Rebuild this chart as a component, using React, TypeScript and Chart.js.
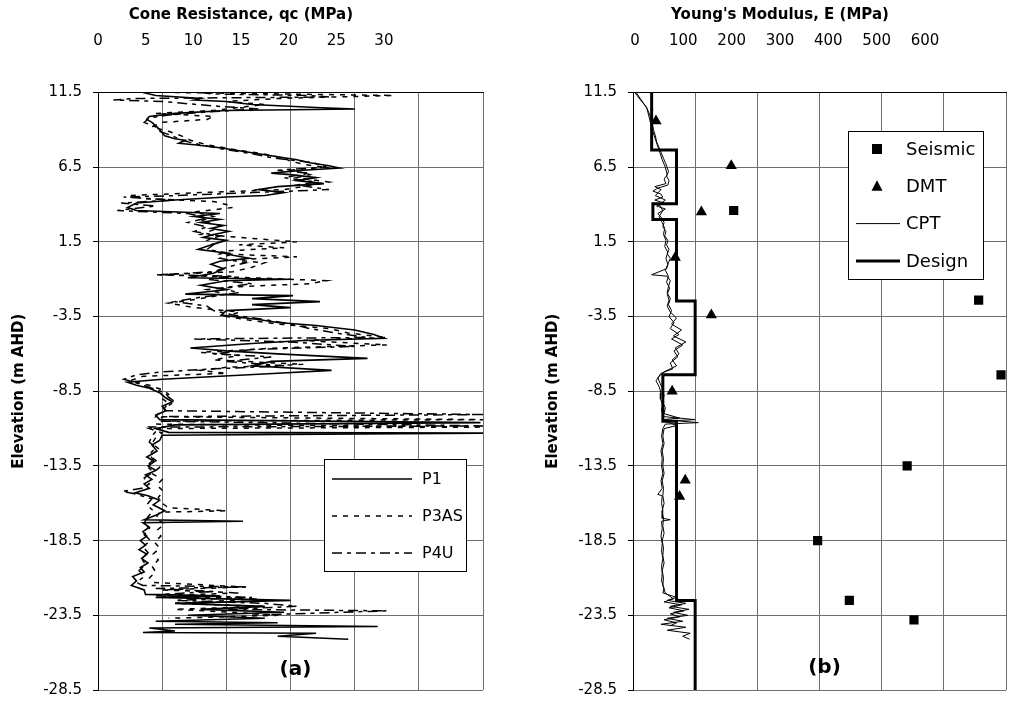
import React, { useEffect, useRef } from 'react';
import { Chart, registerables } from 'chart.js';

Chart.register(...registerables);

const FONT = '"DejaVu Sans", Verdana, sans-serif';
const GRID = '#6e6e6e';

// ---------- tick labels ----------
const elevationTicks = [11.5, 6.5, 1.5, -3.5, -8.5, -13.5, -18.5, -23.5, -28.5];
const qcTickLabels = [0, 5, 10, 15, 20, 25, 30];
const eTickLabels = [0, 100, 200, 300, 400, 500, 600];

// ---------- panel (a): cone resistance profiles ----------
const p1Elev = [11.5, 11.3, 11.1, 11.0, 10.9, 10.7, 10.5, 10.4, 10.3, 10.1, 9.9, 9.7, 9.5, 9.2, 9.0, 8.8, 8.6, 8.4, 8.3, 8.1, 8.0, 7.8, 7.6, 7.4, 7.2, 7.0, 6.8, 6.6, 6.45, 6.3, 6.1, 6.0, 5.8, 5.6, 5.4, 5.2, 5.0, 4.8, 4.6, 4.5, 4.3, 4.1, 3.8, 3.6, 3.4, 3.2, 3.0, 2.8, 2.6, 2.4, 2.2, 2.0, 1.8, 1.6, 1.4, 1.2, 1.0, 0.8, 0.6, 0.4, 0.2, 0.0, -0.3, -0.6, -0.9, -1.0, -1.1, -1.4, -1.7, -2.0, -2.1, -2.3, -2.5, -2.7, -2.9, -3.1, -3.4, -3.7, -3.9, -4.1, -4.4, -4.7, -4.95, -5.1, -5.3, -5.6, -5.8, -6.0, -6.3, -6.5, -6.8, -7.1, -7.3, -7.5, -7.7, -7.9, -8.1, -8.3, -8.6, -8.9, -9.2, -9.5, -9.8, -10.1, -10.4, -10.6, -10.75, -11.0, -11.25, -11.3, -11.45, -11.8, -12.1, -12.5, -12.9, -13.2, -13.5, -13.8, -14.1, -14.4, -14.7, -15.0, -15.3, -15.5, -15.8, -16.1, -16.5, -16.8, -17.1, -17.2, -17.3, -17.6, -17.9, -18.2, -18.5, -18.8, -19.1, -19.4, -19.7, -20.0, -20.3, -20.6, -20.9, -21.2, -21.5, -21.8, -22.1, -22.2, -22.3, -22.5, -22.7, -22.9, -23.1, -23.3, -23.5, -23.7, -23.9, -24.0, -24.1, -24.25, -24.35, -24.55, -24.65, -24.7, -24.9, -25.1];
const p1Qc = [3.5, 4.5, 8, 7.5, 10, 12, 17, 20, 10, 6, 4, 3.8, 4.2, 4.6, 4.8, 5.0, 5.2, 6.0, 6.8, 6.3, 7.5, 9.5, 11.0, 12.5, 14.0, 15.5, 16.5, 18.0, 18.8, 16.0, 13.5, 15.0, 17.0, 15.5, 17.6, 14.0, 12.5, 14.5, 13.0, 10.0, 6.0, 3.0, 2.3, 3.0, 9.5, 7.5, 9.5, 8.0, 9.8, 8.8, 10.2, 9.0, 8.2, 10.0, 9.2, 8.5, 7.8, 9.5, 10.5, 11.8, 9.5, 8.8, 9.8, 9.0, 7.0, 15.0, 10.0, 8.0, 10.0, 6.8, 15.2, 12.0, 17.3, 12.0, 15.0, 10.0, 9.6, 12.5, 14.0, 17.0, 20.0, 21.5, 22.3, 16.0, 12.0, 7.2, 10.0, 14.0, 21.0, 13.5, 12.0, 18.2, 14.0, 9.5, 5.0, 2.3, 3.0, 4.0, 4.8, 5.2, 5.8, 5.0, 5.3, 4.5, 4.8, 29.8, 6.0, 4.5, 5.5, 30.0, 5.0, 4.8, 4.2, 4.6, 3.8, 4.4, 3.9, 4.5, 3.7, 4.2, 3.6, 4.0, 2.9, 3.9, 4.8, 4.3, 5.2, 4.5, 3.6, 11.3, 3.5, 4.0, 3.5, 3.8, 3.3, 3.7, 3.2, 3.8, 3.4, 3.9, 3.3, 3.6, 2.7, 3.0, 2.6, 3.6, 3.7, 9.5, 4.5, 15.0, 6.0, 13.0, 8.0, 14.5, 7.0, 13.0, 4.5, 14.0, 6.0, 21.8, 4.0, 6.0, 3.5, 17.0, 14.0, 19.5];

const p3Elev = [11.5, 11.3, 11.1, 10.9, 10.7, 10.5, 10.3, 10.1, 9.9, 9.7, 9.5, 9.2, 8.9, 8.6, 8.3, 8.0, 7.7, 7.4, 7.1, 6.9, 6.7, 6.5, 6.3, 6.0, 5.8, 5.5, 5.2, 5.0, 4.8, 4.6, 4.4, 4.2, 4.0, 3.8, 3.5, 3.2, 2.9, 2.6, 2.3, 2.0, 1.7, 1.5, 1.3, 1.1, 0.9, 0.7, 0.5, 0.3, 0.1, -0.2, -0.5, -0.7, -0.9, -1.1, -1.3, -1.5, -1.7, -2.0, -2.3, -2.6, -2.9, -3.2, -3.5, -3.7, -4.0, -4.3, -4.6, -4.9, -5.1, -5.4, -5.6, -5.9, -6.1, -6.4, -6.7, -6.9, -7.1, -7.3, -7.5, -7.8, -8.1, -8.4, -8.7, -9.0, -9.3, -9.6, -9.9, -10.2, -10.4, -10.5, -10.7, -10.9, -11.0, -11.3, -11.6, -12.0, -12.4, -12.8, -13.2, -13.6, -14.0, -14.4, -14.8, -15.2, -15.6, -16.0, -16.3, -16.5, -16.6, -17.0, -17.4, -17.8, -18.2, -18.6, -19.0, -19.4, -19.8, -20.2, -20.6, -21.0, -21.3, -21.6, -21.8, -22.0, -22.2, -22.4, -22.7, -22.9, -23.1, -23.3, -23.5, -23.7];
const p3Qc = [6.0, 23.0, 14.0, 10.0, 13.0, 11.0, 9.0, 4.5, 9.0, 8.5, 5.0, 4.2, 5.5, 6.5, 7.2, 8.5, 10.5, 12.8, 14.5, 15.0, 16.0, 17.5, 15.0, 16.5, 15.5, 18.0, 16.0, 14.5, 8.0, 2.5, 3.5, 9.0, 10.0, 10.5, 7.5, 9.0, 8.0, 9.5, 9.0, 8.0, 12.5, 15.5, 11.0, 14.5, 10.0, 9.5, 15.5, 10.5, 13.0, 12.0, 10.5, 4.6, 12.0, 17.8, 16.5, 11.0, 8.5, 10.0, 8.0, 5.5, 7.5, 11.0, 10.0, 11.5, 14.0, 18.0, 19.5, 22.5, 16.0, 22.5, 14.0, 8.0, 11.0, 9.0, 16.0, 10.0, 8.0, 10.0, 3.5, 2.5, 4.0, 5.0, 5.5, 5.0, 5.5, 5.2, 4.8, 4.5, 30.0, 5.0, 4.5, 30.0, 4.0, 5.0, 4.5, 4.2, 4.8, 4.0, 4.6, 4.8, 4.2, 5.0, 4.6, 5.1, 4.7, 5.0, 5.5, 10.0, 4.8, 4.5, 5.2, 4.6, 4.9, 4.4, 4.8, 4.3, 4.7, 4.2, 4.5, 4.0, 4.3, 11.5, 5.0, 11.0, 4.5, 12.5, 6.0, 13.0, 6.0, 10.5, 14.0, 5.5];

const p4Elev = [11.5, 11.4, 11.3, 11.2, 11.1, 11.0, 10.9, 10.6, 10.4, 10.2, 10.0, 9.8, 9.5, 9.2, 8.9, 8.6, 8.3, 8.0, 7.7, 7.4, 7.1, 6.8, 6.5, 6.3, 6.1, 5.8, 5.5, 5.3, 5.0, 4.8, 4.6, 4.5, 4.3, 4.1, 3.9, 3.6, 3.4, 3.1, 2.8, 2.5, 2.2, 1.9, 1.6, 1.3, 1.0, 0.7, 0.4, 0.1, -0.2, -0.5, -0.7, -0.8, -1.0, -1.3, -1.6, -1.9, -2.2, -2.5, -2.8, -3.1, -3.4, -3.7, -4.0, -4.3, -4.6, -4.9, -5.0, -5.2, -5.5, -5.7, -6.0, -6.2, -6.5, -6.8, -7.0, -7.2, -7.4, -7.7, -8.0, -8.3, -8.6, -8.9, -9.2, -9.5, -9.8, -10.06, -10.2, -10.5, -10.82, -10.9, -11.2, -11.5, -11.9, -12.3, -12.7, -13.1, -13.5, -13.9, -14.3, -14.7, -15.0, -15.2, -15.4, -15.7, -16.1, -16.5, -16.9, -17.3, -17.7, -18.1, -18.5, -18.9, -19.3, -19.7, -20.1, -20.5, -20.9, -21.3, -21.5, -21.6, -21.7, -21.9, -22.1, -22.3, -22.5, -22.7, -22.9, -23.1, -23.2, -23.35, -23.5];
const p4Qc = [8.0, 9.0, 16.5, 18.0, 3.0, 1.2, 5.0, 9.0, 12.5, 8.5, 5.5, 4.0, 3.6, 4.5, 4.8, 5.8, 6.5, 8.0, 9.8, 12.0, 13.8, 16.8, 17.8, 14.0, 16.5, 14.5, 17.0, 15.5, 18.0, 12.0, 6.0, 2.0, 6.0, 1.8, 4.5, 1.5, 7.0, 8.5, 7.0, 8.5, 7.5, 9.5, 8.5, 9.0, 8.5, 10.5, 9.5, 11.5, 10.0, 9.0, 4.8, 10.5, 8.5, 12.0, 9.5, 11.0, 8.0, 6.0, 8.5, 9.0, 10.5, 13.0, 15.0, 16.5, 18.5, 21.0, 7.5, 15.0, 20.0, 12.0, 9.0, 13.5, 10.0, 14.5, 9.0, 5.0, 3.0, 2.0, 3.2, 4.2, 5.2, 5.5, 6.0, 5.4, 5.2, 30.0, 5.0, 4.8, 30.0, 4.0, 4.5, 4.2, 4.0, 4.5, 4.0, 4.3, 3.8, 4.3, 3.6, 4.0, 3.4, 1.9, 3.0, 4.2, 3.8, 4.3, 3.9, 3.6, 4.0, 3.6, 4.1, 3.5, 3.9, 3.4, 3.7, 3.2, 3.6, 3.0, 3.5, 11.6, 4.5, 9.0, 5.0, 12.0, 6.0, 13.0, 15.5, 10.0, 22.5, 17.0, 12.0];

// ---------- panel (b): Young's modulus ----------
const cpt1Elev = [11.5, 11.2, 10.9, 10.6, 10.3, 10.0, 9.7, 9.4, 9.0, 8.6, 8.2, 7.9, 7.5, 7.1, 6.8, 6.5, 6.2, 5.9, 5.6, 5.3, 5.1, 4.9, 4.7, 4.5, 4.3, 4.1, 3.9, 3.7, 3.4, 3.1, 2.8, 2.5, 2.2, 1.9, 1.6, 1.3, 1.0, 0.7, 0.4, 0.1, -0.3, -0.7, -0.8, -1.1, -1.5, -1.9, -2.3, -2.7, -3.1, -3.5, -3.9, -4.3, -4.7, -5.0, -5.4, -5.8, -6.2, -6.6, -7.0, -7.3, -7.6, -8.0, -8.4, -8.8, -9.2, -9.6, -10.0, -10.3, -10.4, -10.6, -10.7, -11.0, -11.5, -12.0, -12.5, -13.0, -13.5, -14.0, -14.5, -15.0, -15.4, -15.5, -16.0, -16.5, -17.0, -17.1, -17.2, -17.7, -18.2, -18.7, -19.2, -19.7, -20.2, -20.7, -21.2, -21.7, -22.0, -22.3, -22.5, -22.7, -22.9, -23.1, -23.3, -23.5, -23.7, -23.9, -24.1, -24.3, -24.5, -24.7, -24.9, -25.1];
const cpt1E = [5, 10, 15, 20, 24, 27, 29, 31, 33, 36, 38, 41, 45, 49, 52, 55, 57, 54, 58, 56, 40, 32, 45, 48, 35, 50, 38, 52, 40, 46, 50, 48, 53, 51, 56, 54, 58, 55, 60, 57, 54, 30, 55, 60, 57, 55, 60, 57, 62, 58, 66, 60, 74, 62, 80, 66, 72, 60, 64, 45, 40, 44, 48, 50, 47, 52, 50, 75, 48, 105, 52, 48, 46, 48, 45, 47, 46, 48, 45, 47, 40, 47, 46, 48, 47, 60, 46, 47, 45, 47, 46, 48, 46, 47, 46, 50, 48, 70, 55, 85, 60, 90, 65, 88, 55, 80, 45, 85, 55, 92, 80, 91];

const cpt2Elev = [11.5, 11.0, 10.5, 10.0, 9.5, 9.0, 8.5, 8.0, 7.5, 7.0, 6.5, 6.0, 5.7, 5.4, 5.2, 5.0, 4.6, 4.3, 4.0, 3.6, 3.2, 2.8, 2.4, 2.0, 1.6, 1.2, 0.8, 0.4, 0.0, -0.4, -0.8, -1.2, -1.6, -2.0, -2.4, -2.8, -3.2, -3.6, -4.0, -4.4, -4.8, -5.2, -5.6, -6.0, -6.4, -6.8, -7.2, -7.5, -7.8, -8.2, -8.6, -9.0, -9.4, -9.8, -10.2, -10.4, -10.5, -10.8, -11.0, -11.5, -12.0, -12.5, -13.0, -13.5, -14.0, -14.5, -15.0, -15.5, -16.0, -16.5, -17.0, -17.5, -18.0, -18.5, -19.0, -19.5, -20.0, -20.5, -21.0, -21.5, -22.0, -22.4, -22.6, -22.8, -23.0, -23.2, -23.4, -23.6, -23.8, -24.0, -24.2];
const cpt2E = [3, 12, 22, 25, 28, 31, 35, 39, 43, 47, 52, 55, 50, 53, 35, 45, 36, 52, 42, 48, 42, 47, 51, 49, 53, 51, 56, 53, 56, 52, 57, 54, 59, 55, 58, 55, 60, 70, 62, 78, 65, 85, 68, 74, 63, 70, 50, 42, 37, 42, 45, 44, 48, 46, 50, 100, 52, 70, 50, 48, 50, 47, 49, 48, 50, 47, 49, 48, 50, 47, 49, 48, 50, 47, 49, 48, 50, 47, 49, 48, 52, 65, 50, 78, 58, 82, 60, 75, 50, 70, 60];

const designElev = [11.5, 7.65, 7.65, 4.05, 4.05, 3.0, 3.0, -2.45, -2.45, -7.4, -7.4, -10.5, -10.5, -22.5, -22.5, -28.5];
const designE = [30, 30, 70, 70, 32, 32, 70, 70, 100, 100, 48, 48, 70, 70, 100, 100];

const dmtElev = [9.6, 6.6, 3.5, 0.45, -3.4, -8.5, -14.45, -15.55];
const dmtE = [37, 158, 110, 68, 126, 63, 84, 75];

const seismicElev = [3.6, -2.4, -7.4, -13.5, -18.5, -22.5, -23.8];
const seismicE = [162, 556, 592, 441, 297, 348, 452];

const pts = (xs: number[], ys: number[]) => xs.map((x, i) => ({ x, y: ys[i] }));

// ---------- overlay plugin: axis title over label axis, panel tag, legend ----------
const overlayPlugin = {
  id: 'overlay',
  afterDraw(chart: any, _args: any, opts: any) {
    const ctx = chart.ctx as CanvasRenderingContext2D;
    const area = chart.chartArea;
    ctx.save();
    ctx.fillStyle = '#000';
    ctx.textAlign = 'center';
    ctx.textBaseline = 'middle';
    ctx.font = `bold 15px ${FONT}`;
    const ls = chart.scales.xl;
    ctx.fillText(opts.title, ls.getPixelForValue(opts.titleAt), opts.titleY);
    ctx.font = `bold 20px ${FONT}`;
    ctx.fillText(opts.tag, (area.left + area.right) / 2 + 5, opts.tagY);

    const L = opts.legend;
    ctx.fillStyle = '#fff';
    ctx.fillRect(L.x, L.y, L.w, L.h);
    ctx.strokeStyle = '#000';
    ctx.lineWidth = 1;
    ctx.strokeRect(L.x + 0.5, L.y + 0.5, L.w, L.h);
    L.items.forEach((it: any, i: number) => {
      const ds = chart.data.datasets[it.ds];
      const y = L.y + L.first + i * L.gap;
      ctx.fillStyle = '#000';
      ctx.strokeStyle = '#000';
      if (it.kind === 'line') {
        ctx.beginPath();
        ctx.setLineDash(ds.borderDash || []);
        ctx.lineWidth = ds.borderWidth;
        ctx.moveTo(L.x + L.lx1, y);
        ctx.lineTo(L.x + L.lx2, y);
        ctx.stroke();
        ctx.setLineDash([]);
      } else if (it.kind === 'rect') {
        ctx.fillRect(L.x + L.mx - 5, y - 5, 10, 10);
      } else if (it.kind === 'triangle') {
        ctx.beginPath();
        ctx.moveTo(L.x + L.mx, y - 6);
        ctx.lineTo(L.x + L.mx + 5.5, y + 4.5);
        ctx.lineTo(L.x + L.mx - 5.5, y + 4.5);
        ctx.closePath();
        ctx.fill();
      }
      ctx.font = `${L.fontSize}px ${FONT}`;
      ctx.textAlign = 'left';
      ctx.textBaseline = 'middle';
      ctx.fillText(ds.label, L.x + L.tx, y + 1);
    });
    ctx.restore();
  },
};

function makeScales(opts: {
  max: number; step: number; lblMin: number; lblMax: number; lblTicks: number[];
  yWidth: number; yTitlePad: number;
}) {
  return {
    x: {
      type: 'linear', position: 'bottom', min: 0, max: opts.max,
      grid: { color: GRID, drawTicks: false, lineWidth: 1 },
      border: { display: false },
      ticks: { display: false, stepSize: opts.step },
      afterFit: (s: any) => { s.height = 0; },
    },
    xl: {
      type: 'linear', position: 'top', min: opts.lblMin, max: opts.lblMax,
      grid: { display: false },
      border: { display: true, color: '#000', width: 1 },
      ticks: {
        color: '#000', font: { family: FONT, size: 15 }, padding: 34,
        maxRotation: 0, autoSkip: false, callback: (v: any) => String(v),
      },
      afterBuildTicks: (s: any) => { s.ticks = opts.lblTicks.map((v) => ({ value: v })); },
      afterFit: (s: any) => { s.height = 92.5; },
    },
    y: {
      type: 'linear', min: -28.5, max: 11.5,
      grid: { color: GRID, tickColor: '#000', tickLength: 5, lineWidth: 1 },
      border: { color: '#000', width: 1 },
      ticks: {
        color: '#000', font: { family: FONT, size: 15 }, padding: 11,
        callback: (v: any) => Number(v).toFixed(1),
      },
      afterBuildTicks: (s: any) => { s.ticks = elevationTicks.map((v) => ({ value: v })); },
      title: {
        display: true, text: 'Elevation (m AHD)', color: '#000',
        font: { family: FONT, size: 15, weight: 'bold' }, padding: { top: opts.yTitlePad, bottom: 0 },
      },
      afterFit: (s: any) => { s.width = opts.yWidth; },
    },
  };
}

export default function App() {
  const leftRef = useRef<HTMLCanvasElement | null>(null);
  const rightRef = useRef<HTMLCanvasElement | null>(null);

  useEffect(() => {
    const line = (label: string, data: any[], dash: number[], width: number) => ({
      label, data, showLine: true, borderColor: '#000', backgroundColor: '#000',
      borderWidth: width, borderDash: dash, pointRadius: 0, tension: 0,
    });

    const left = new Chart(leftRef.current as HTMLCanvasElement, {
      type: 'scatter',
      data: {
        datasets: [
          line('P1', pts(p1Qc, p1Elev), [], 1.6),
          line('P3AS', pts(p3Qc, p3Elev), [5, 6], 1.5),
          line('P4U', pts(p4Qc, p4Elev), [10, 5, 4, 5], 1.5),
        ],
      },
      options: {
        animation: false, responsive: false, devicePixelRatio: 1,
        layout: { padding: { left: 0, right: 32, top: 0, bottom: 7 } },
        scales: makeScales({ max: 30, step: 5, lblMin: 0, lblMax: 40.4, lblTicks: qcTickLabels, yWidth: 98, yTitlePad: 10 }) as any,
        plugins: {
          legend: { display: false },
          tooltip: { enabled: false },
          overlay: {
            title: 'Cone Resistance, qc (MPa)', titleAt: 15, titleY: 15, tag: '(a)', tagY: 670,
            legend: {
              x: 324, y: 459, w: 142, h: 112, first: 20, gap: 37, lx1: 8, lx2: 88, tx: 98, mx: 30, fontSize: 16,
              items: [{ ds: 0, kind: 'line' }, { ds: 1, kind: 'line' }, { ds: 2, kind: 'line' }],
            },
          },
        } as any,
      },
      plugins: [overlayPlugin],
    });

    const right = new Chart(rightRef.current as HTMLCanvasElement, {
      type: 'scatter',
      data: {
        datasets: [
          line('CPT', pts(cpt1E, cpt1Elev), [], 1),
          line('CPT', pts(cpt2E, cpt2Elev), [], 1),
          line('Design', pts(designE, designElev), [], 3),
          {
            label: 'DMT', data: pts(dmtE, dmtElev), pointStyle: 'triangle', pointRadius: 6.5,
            backgroundColor: '#000', borderColor: '#000', borderWidth: 0, showLine: false,
          },
          {
            label: 'Seismic', data: pts(seismicE, seismicElev), pointStyle: 'rect', pointRadius: 6.5,
            backgroundColor: '#000', borderColor: '#000', borderWidth: 0, showLine: false,
          },
        ],
      },
      options: {
        animation: false, responsive: false, devicePixelRatio: 1,
        layout: { padding: { left: 0, right: 23, top: 0, bottom: 7 } },
        scales: makeScales({ max: 600, step: 100, lblMin: -4.14, lblMax: 767.6, lblTicks: eTickLabels, yWidth: 118, yTitlePad: 29.6 }) as any,
        plugins: {
          legend: { display: false },
          tooltip: { enabled: false },
          overlay: {
            title: "Young's Modulus, E (MPa)", titleAt: 300, titleY: 15, tag: '(b)', tagY: 668,
            legend: {
              x: 333, y: 131, w: 135, h: 148, first: 18, gap: 37.3, lx1: 8, lx2: 52, tx: 58, mx: 29, fontSize: 18,
              items: [{ ds: 4, kind: 'rect' }, { ds: 3, kind: 'triangle' }, { ds: 0, kind: 'line' }, { ds: 2, kind: 'line' }],
            },
          },
        } as any,
      },
      plugins: [overlayPlugin],
    });

    return () => {
      left.destroy();
      right.destroy();
    };
  }, []);

  return (
    <div style={{ position: 'absolute', left: 0, top: 0, width: 1029, height: 710, background: '#fff', overflow: 'hidden' }}>
      <canvas ref={leftRef} width={515} height={710} style={{ position: 'absolute', left: 0, top: 0, width: 515, height: 710 }} />
      <canvas ref={rightRef} width={514} height={710} style={{ position: 'absolute', left: 515, top: 0, width: 514, height: 710 }} />
    </div>
  );
}
